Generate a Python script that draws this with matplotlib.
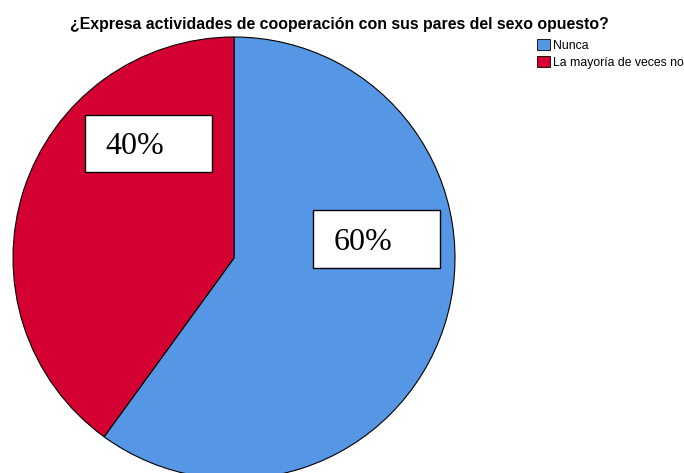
import matplotlib
matplotlib.use("Agg")
import matplotlib.pyplot as plt
from matplotlib.patches import Rectangle, Patch

title = "¿Expresa actividades de cooperación con sus pares del sexo opuesto?"
categories = ["Nunca", "La mayoría de veces no"]
values = [60, 40]
labels = ["60%", "40%"]
colors = ["#5596E5", "#D50032"]

W, H = 684, 473
fig = plt.figure(figsize=(W / 100, H / 100), dpi=100)

# pie axes: pixel box x 13..455, y 37..479 (top-origin)
cx, cy, r = 234, 258, 221
ax = fig.add_axes([(cx - r) / W, (H - (cy + r)) / H, 2 * r / W, 2 * r / H])
ax.pie(values, colors=colors, startangle=90, counterclock=False, radius=1,
       wedgeprops=dict(edgecolor="black", linewidth=0.8))
ax.set_xlim(-1, 1)
ax.set_ylim(-1, 1)
ax.set_aspect("auto")
ax.axis("off")

# label boxes (pixel coords top-origin: x0, y0, x1, y1)
boxes = [(313, 210, 440, 268), (85, 115, 212, 172)]
for (x0, y0, x1, y1), lab in zip(boxes, labels):
    fig.patches.append(Rectangle((x0 / W, 1 - y1 / H), (x1 - x0) / W, (y1 - y0) / H,
                                 transform=fig.transFigure, facecolor="white",
                                 edgecolor="black", linewidth=1.0, zorder=5))
    fig.text((x0 + 20.5) / W, 1 - ((y0 + y1) / 2 + 3) / H, lab, ha="left", va="center",
             fontsize=23, family="Liberation Serif", zorder=6)

fig.text(339 / W, 1 - 24 / H, title, ha="center", va="center",
         fontsize=11.4, fontweight="bold", family="Liberation Sans")

handles = [Patch(facecolor=c, edgecolor="black", linewidth=0.6) for c in colors]
fig.legend(handles, categories, loc="upper left", bbox_to_anchor=(535 / W, 1 - 37 / H),
           frameon=False, prop=dict(family="Liberation Sans", size=8.8),
           handlelength=1.0, handleheight=1.0, handletextpad=0.25, labelspacing=0.35,
           borderaxespad=0, borderpad=0.2)

fig.savefig("out.png", dpi=100)
